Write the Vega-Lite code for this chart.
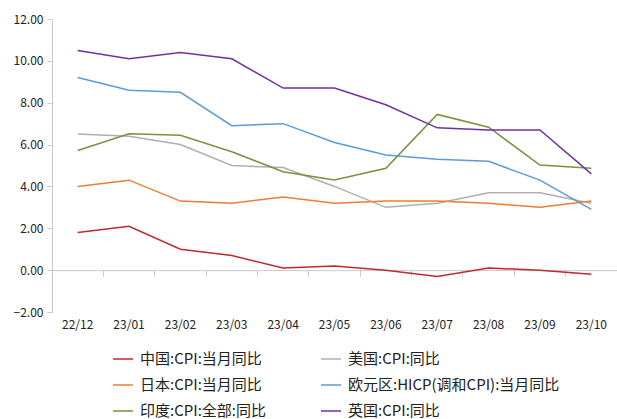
{
  "$schema": "https://vega.github.io/schema/vega-lite/v6.json",
  "width": 565,
  "height": 293,
  "autosize": "none",
  "padding": {"left": 52, "top": 19, "right": 0, "bottom": 107},
  "background": "white",
  "config": {"view": {"stroke": null}, "font": "Noto Sans CJK SC"},
  "data": {"values": [
    {"m":"22/12","s":"中国:CPI:当月同比","v":1.8},{"m":"23/01","s":"中国:CPI:当月同比","v":2.1},{"m":"23/02","s":"中国:CPI:当月同比","v":1.0},{"m":"23/03","s":"中国:CPI:当月同比","v":0.7},{"m":"23/04","s":"中国:CPI:当月同比","v":0.1},{"m":"23/05","s":"中国:CPI:当月同比","v":0.2},{"m":"23/06","s":"中国:CPI:当月同比","v":0.0},{"m":"23/07","s":"中国:CPI:当月同比","v":-0.3},{"m":"23/08","s":"中国:CPI:当月同比","v":0.1},{"m":"23/09","s":"中国:CPI:当月同比","v":0.0},{"m":"23/10","s":"中国:CPI:当月同比","v":-0.2},
    {"m":"22/12","s":"美国:CPI:同比","v":6.5},{"m":"23/01","s":"美国:CPI:同比","v":6.4},{"m":"23/02","s":"美国:CPI:同比","v":6.0},{"m":"23/03","s":"美国:CPI:同比","v":5.0},{"m":"23/04","s":"美国:CPI:同比","v":4.9},{"m":"23/05","s":"美国:CPI:同比","v":4.0},{"m":"23/06","s":"美国:CPI:同比","v":3.0},{"m":"23/07","s":"美国:CPI:同比","v":3.2},{"m":"23/08","s":"美国:CPI:同比","v":3.7},{"m":"23/09","s":"美国:CPI:同比","v":3.7},{"m":"23/10","s":"美国:CPI:同比","v":3.2},
    {"m":"22/12","s":"日本:CPI:当月同比","v":4.0},{"m":"23/01","s":"日本:CPI:当月同比","v":4.3},{"m":"23/02","s":"日本:CPI:当月同比","v":3.3},{"m":"23/03","s":"日本:CPI:当月同比","v":3.2},{"m":"23/04","s":"日本:CPI:当月同比","v":3.5},{"m":"23/05","s":"日本:CPI:当月同比","v":3.2},{"m":"23/06","s":"日本:CPI:当月同比","v":3.3},{"m":"23/07","s":"日本:CPI:当月同比","v":3.3},{"m":"23/08","s":"日本:CPI:当月同比","v":3.2},{"m":"23/09","s":"日本:CPI:当月同比","v":3.0},{"m":"23/10","s":"日本:CPI:当月同比","v":3.3},
    {"m":"22/12","s":"欧元区:HICP(调和CPI):当月同比","v":9.2},{"m":"23/01","s":"欧元区:HICP(调和CPI):当月同比","v":8.6},{"m":"23/02","s":"欧元区:HICP(调和CPI):当月同比","v":8.5},{"m":"23/03","s":"欧元区:HICP(调和CPI):当月同比","v":6.9},{"m":"23/04","s":"欧元区:HICP(调和CPI):当月同比","v":7.0},{"m":"23/05","s":"欧元区:HICP(调和CPI):当月同比","v":6.1},{"m":"23/06","s":"欧元区:HICP(调和CPI):当月同比","v":5.5},{"m":"23/07","s":"欧元区:HICP(调和CPI):当月同比","v":5.3},{"m":"23/08","s":"欧元区:HICP(调和CPI):当月同比","v":5.2},{"m":"23/09","s":"欧元区:HICP(调和CPI):当月同比","v":4.3},{"m":"23/10","s":"欧元区:HICP(调和CPI):当月同比","v":2.9},
    {"m":"22/12","s":"印度:CPI:全部:同比","v":5.72},{"m":"23/01","s":"印度:CPI:全部:同比","v":6.52},{"m":"23/02","s":"印度:CPI:全部:同比","v":6.44},{"m":"23/03","s":"印度:CPI:全部:同比","v":5.66},{"m":"23/04","s":"印度:CPI:全部:同比","v":4.7},{"m":"23/05","s":"印度:CPI:全部:同比","v":4.31},{"m":"23/06","s":"印度:CPI:全部:同比","v":4.87},{"m":"23/07","s":"印度:CPI:全部:同比","v":7.44},{"m":"23/08","s":"印度:CPI:全部:同比","v":6.83},{"m":"23/09","s":"印度:CPI:全部:同比","v":5.02},{"m":"23/10","s":"印度:CPI:全部:同比","v":4.87},
    {"m":"22/12","s":"英国:CPI:同比","v":10.5},{"m":"23/01","s":"英国:CPI:同比","v":10.1},{"m":"23/02","s":"英国:CPI:同比","v":10.4},{"m":"23/03","s":"英国:CPI:同比","v":10.1},{"m":"23/04","s":"英国:CPI:同比","v":8.7},{"m":"23/05","s":"英国:CPI:同比","v":8.7},{"m":"23/06","s":"英国:CPI:同比","v":7.9},{"m":"23/07","s":"英国:CPI:同比","v":6.8},{"m":"23/08","s":"英国:CPI:同比","v":6.7},{"m":"23/09","s":"英国:CPI:同比","v":6.7},{"m":"23/10","s":"英国:CPI:同比","v":4.6}
  ]},
  "mark": {"type": "line", "strokeWidth": 1.5},
  "encoding": {
    "x": {
      "field": "m", "type": "ordinal", "sort": null,
      "scale": {"type": "band", "paddingInner": 0, "paddingOuter": 0},
      "axis": {
        "title": null, "labelAngle": 0, "offset": -41.86, "bandPosition": 0,
        "labelPadding": 43, "tickSize": 6,
        "domainColor": "#c8c8c8", "tickColor": "#c8c8c8",
        "labelColor": "#222", "labelFontSize": 12, "labelFont": "Noto Sans CJK SC"
      }
    },
    "y": {
      "field": "v", "type": "quantitative",
      "scale": {"domain": [-2, 12], "nice": false, "zero": false},
      "axis": {
        "title": null, "values": [-2, 0, 2, 4, 6, 8, 10, 12], "format": ".2f",
        "grid": false, "tickSize": 5, "labelPadding": 4,
        "domainColor": "#c8c8c8", "tickColor": "#c8c8c8",
        "labelColor": "#222", "labelFontSize": 12, "labelFont": "Noto Sans CJK SC"
      }
    },
    "color": {
      "field": "s", "type": "nominal",
      "scale": {
        "domain": ["中国:CPI:当月同比", "日本:CPI:当月同比", "印度:CPI:全部:同比", "美国:CPI:同比", "欧元区:HICP(调和CPI):当月同比", "英国:CPI:同比"],
        "range": ["#C0282C", "#ED7D31", "#77933C", "#AFAFAF", "#5B9BD5", "#7030A0"]
      },
      "legend": {
        "title": null, "orient": "none", "legendX": 60, "legendY": 329,
        "columns": 2, "symbolType": "stroke", "symbolSize": 400, "symbolStrokeWidth": 1.5,
        "labelFontSize": 15, "labelColor": "#222", "labelFont": "Noto Sans CJK SC",
        "labelOffset": 6, "rowPadding": 7, "columnPadding": 52, "labelLimit": 400
      }
    }
  }
}
